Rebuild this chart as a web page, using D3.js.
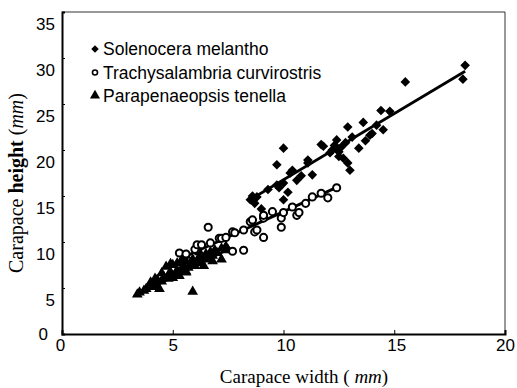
<!DOCTYPE html>
<html>
<head>
<meta charset="utf-8">
<script src="https://cdn.jsdelivr.net/npm/d3@7"></script>
<style>
  body { margin: 0; background: #fff; }
  svg { display: block; }
</style>
</head>
<body>
<svg id="chart" width="517" height="388"></svg>
<script>
// Solenocera melantho (filled diamonds): [width, height]
const solenocera = [
  [8.5, 14.6], [8.6, 15.0], [8.7, 14.2], [9.0, 13.6], [9.3, 15.7], [9.7, 16.2],
  [9.7, 18.4], [9.8, 15.9], [10.0, 20.2], [10.0, 14.6], [10.2, 15.4], [10.0, 16.4],
  [10.3, 17.5], [10.4, 17.8], [10.6, 16.7], [10.8, 17.2], [11.1, 18.6], [11.3, 17.3],
  [11.1, 18.9], [11.7, 20.6], [11.8, 20.4], [12.1, 19.7], [12.2, 20.0], [12.3, 20.5],
  [12.4, 21.1], [12.5, 19.8], [12.6, 20.3], [12.7, 19.1], [12.5, 19.3], [12.8, 20.8],
  [12.9, 18.6], [13.0, 17.8], [12.9, 22.5], [13.1, 21.4], [13.4, 20.2], [13.6, 23.0],
  [13.9, 21.6], [14.0, 21.8], [14.2, 22.7], [14.5, 22.2], [14.4, 24.3], [14.8, 24.2],
  [15.5, 27.4], [18.1, 27.7], [18.2, 29.2], [8.8, 14.9], [12.4, 20.3], [13.7, 21.0]
];

// Trachysalambria curvirostris (open circles)
const trachysalambria = [
  [5.3, 8.8], [5.6, 8.7], [6.0, 9.2], [6.1, 9.7], [6.3, 9.7], [6.6, 11.6],
  [6.7, 9.9], [7.1, 10.4], [7.2, 10.4], [7.4, 10.5], [7.7, 11.1], [7.7, 9.0],
  [7.8, 11.0], [8.2, 11.3], [8.2, 9.1], [8.5, 12.2], [8.6, 12.4], [8.7, 11.1],
  [8.8, 11.3], [9.1, 12.6], [9.1, 12.9], [9.1, 10.5], [9.5, 13.3], [9.9, 12.6],
  [9.9, 11.6], [10.0, 13.2], [10.4, 13.8], [10.6, 12.9], [10.7, 13.2], [11.0, 14.2],
  [11.3, 14.9], [11.7, 15.3], [12.0, 14.8], [12.4, 15.9]
];

// Parapenaeopsis tenella (filled triangles)
const parapenaeopsis = [
  [3.4, 4.2], [3.5, 4.4], [3.7, 4.6], [3.8, 4.8], [3.9, 5.0], [4.0, 5.5],
  [4.1, 5.1], [4.1, 5.0], [4.2, 5.3], [4.2, 5.9], [4.3, 5.8], [4.4, 4.8],
  [4.5, 5.6], [4.5, 6.5], [4.6, 6.1], [4.7, 7.2], [4.8, 6.3], [4.8, 5.9],
  [4.9, 6.6], [4.9, 7.5], [4.9, 6.1], [5.0, 6.0], [5.0, 7.4], [5.1, 6.4],
  [5.2, 6.8], [5.2, 7.6], [5.3, 6.2], [5.4, 7.0], [5.4, 7.9], [5.5, 7.3],
  [5.6, 6.7], [5.6, 6.6], [5.6, 7.8], [5.6, 8.4], [5.7, 7.1], [5.8, 7.5],
  [5.9, 8.0], [5.9, 4.5], [6.0, 7.3], [6.1, 7.8], [6.2, 8.3], [6.2, 8.8],
  [6.3, 7.6], [6.4, 8.1], [6.4, 7.3], [6.5, 8.6], [6.6, 8.0], [6.7, 8.8],
  [6.8, 8.4], [6.8, 7.8], [6.9, 9.0], [7.0, 8.7], [7.2, 8.0], [7.2, 9.2],
  [7.4, 9.4], [7.5, 9.0]
];

// fitted lines: [slope, intercept, xFrom, xTo]
const fitSolenocera = [1.44, 2.36, 8.4, 18.2];
const fitTrachysalambria = [1.1, 2.3, 5.3, 12.4];
const fitParapenaeopsis = [1.2, 0.2, 3.4, 7.5];

const legendLabels = ['Solenocera melantho', 'Trachysalambria curvirostris', 'Parapenaeopsis tenella'];
const xTicks = [0, 5, 10, 15, 20];
const yTicks = [0, 5, 10, 15, 20, 25, 30, 35];

const svg = d3.select('#chart');

const x = d3.scaleLinear().domain([0, 20]).range([62, 505]);
const y = d3.scaleLinear().domain([0, 35]).range([334, 12]);

// plot frame: thin top/right, heavier left/bottom
svg.append('line')
  .attr('x1', x(0)).attr('x2', x(20)).attr('y1', y(35)).attr('y2', y(35))
  .attr('stroke', '#333').attr('stroke-width', 1);
svg.append('line')
  .attr('x1', x(20)).attr('x2', x(20)).attr('y1', y(35)).attr('y2', y(0))
  .attr('stroke', '#333').attr('stroke-width', 1);

const xAxis = svg.append('g')
  .attr('transform', `translate(0,${y(0)})`)
  .call(d3.axisBottom(x).tickValues(xTicks).tickSize(-4).tickPadding(5).tickFormat(d3.format('d')));
xAxis.select('.domain').attr('stroke-width', 2);
xAxis.selectAll('.tick text')
  .attr('font-family', 'Liberation Sans, Arial, sans-serif')
  .attr('font-size', 17)
  .attr('dx', d => (d === 10 || d === 15) ? 2 : (d === 0 ? -2 : 0));

const yAxis = svg.append('g')
  .attr('transform', `translate(${x(0)},0)`)
  .call(d3.axisLeft(y).tickValues(yTicks).tickSize(-3).tickPadding(7).tickFormat(d3.format('d')));
yAxis.select('.domain').attr('stroke-width', 2);
yAxis.selectAll('.tick text')
  .attr('font-family', 'Liberation Sans, Arial, sans-serif')
  .attr('font-size', 17)
  .attr('dy', d => d === 0 ? '0.3em' : '1.05em')
  .attr('dx', d => d === 0 ? -7 : 0);

// regression lines
const fitLine = f => [[f[2], f[0] * f[2] + f[1]], [f[3], f[0] * f[3] + f[1]]];
const line = d3.line().x(d => x(d[0])).y(d => y(d[1]));
const fits = [fitParapenaeopsis, fitTrachysalambria, fitSolenocera];

// markers
const tri = d3.symbol().type(d3.symbolTriangle).size(50);
const diamond = d3.symbol().type(d3.symbolSquare).size(46);
const circ = d3.symbol().type(d3.symbolCircle).size(40);

svg.append('g').selectAll('path')
  .data(parapenaeopsis).join('path')
  .attr('d', tri)
  .attr('transform', d => `translate(${x(d[0])},${y(d[1]) - 1})`)
  .attr('fill', '#000');

svg.append('g').selectAll('path')
  .data(fits).join('path')
  .attr('d', d => line(fitLine(d)))
  .attr('fill', 'none')
  .attr('stroke', '#000')
  .attr('stroke-width', 2.8);

svg.append('g').selectAll('path')
  .data(trachysalambria).join('path')
  .attr('d', circ)
  .attr('transform', d => `translate(${x(d[0])},${y(d[1])})`)
  .attr('fill', '#fff')
  .attr('stroke', '#000')
  .attr('stroke-width', 2);

svg.append('g').selectAll('path')
  .data(solenocera).join('path')
  .attr('d', diamond)
  .attr('transform', d => `translate(${x(d[0])},${y(d[1])}) rotate(45)`)
  .attr('fill', '#000');

// legend
const legend = svg.append('g');
const legendRows = legend.selectAll('g')
  .data(legendLabels).join('g')
  .attr('transform', (d, i) => `translate(95,${49 + i * 23.5})`);
legendRows.append('path')
  .attr('d', (d, i) => i === 0 ? d3.symbol().type(d3.symbolSquare).size(28)()
    : i === 1 ? d3.symbol().type(d3.symbolCircle).size(20)()
    : d3.symbol().type(d3.symbolTriangle).size(44)())
  .attr('transform', (d, i) => i === 0 ? 'rotate(45)' : (i === 2 ? 'translate(0,-0.5)' : null))
  .attr('fill', (d, i) => i === 1 ? '#fff' : '#000')
  .attr('stroke', (d, i) => i === 1 ? '#000' : 'none')
  .attr('stroke-width', 1.6);
legendRows.append('text')
  .attr('x', 8)
  .attr('y', 6)
  .attr('font-family', 'Liberation Sans, Arial, sans-serif')
  .attr('font-size', 17.5)
  .text(d => d);

// axis titles
const xt = svg.append('text')
  .attr('x', 304).attr('y', 383)
  .attr('text-anchor', 'middle')
  .attr('font-family', 'Liberation Serif, Times New Roman, serif')
  .attr('font-size', 19);
xt.append('tspan').text('Carapace width (  ');
xt.append('tspan').attr('font-style', 'italic').text('mm');
xt.append('tspan').text(')');

const yt = svg.append('text')
  .attr('transform', 'translate(23,183) rotate(-90)')
  .attr('text-anchor', 'middle')
  .attr('font-family', 'Liberation Serif, Times New Roman, serif')
  .attr('font-size', 20);
yt.append('tspan').text('Carapace  ');
yt.append('tspan').attr('font-weight', 'bold').text('height  ');
yt.append('tspan').text('(');
yt.append('tspan').attr('font-style', 'italic').text('mm');
yt.append('tspan').text(')');
</script>
</body>
</html>
